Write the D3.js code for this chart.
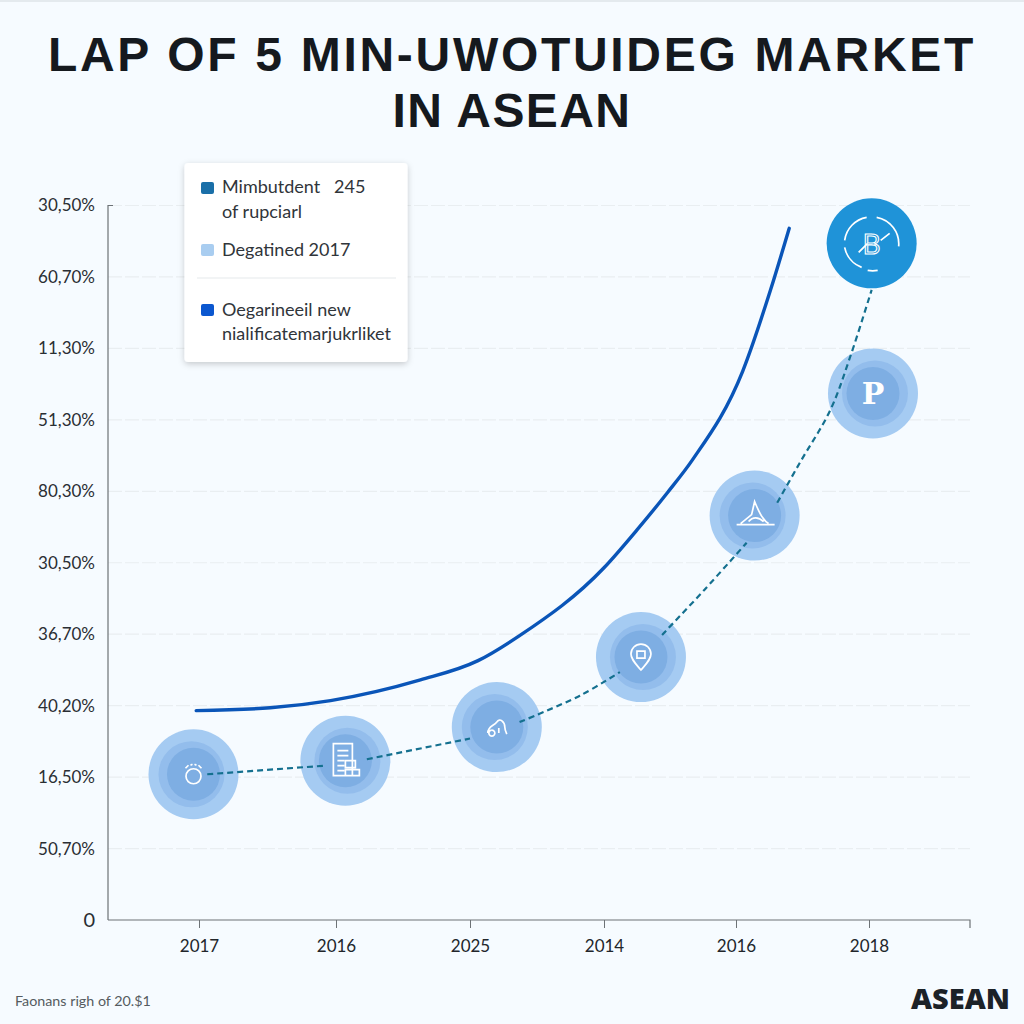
<!DOCTYPE html>
<html><head><meta charset="utf-8">
<script src="https://cdn.jsdelivr.net/npm/d3@7/dist/d3.min.js"></script>
<style>html,body{margin:0;padding:0;background:#f6fbff}svg{display:block}</style>
</head><body><svg id="c" width="1024" height="1024"></svg>
<script>
const titleLines = ["LAP OF 5 MIN-UWOTUIDEG MARKET", "IN ASEAN"];
const titleSpacing = [2.7, 1.4];
const yLabels = ["0","50,70%","16,50%","40,20%","36,70%","30,50%","80,30%","51,30%","11,30%","60,70%","30,50%"];
const xLabels = ["2017","2016","2025","2014","2016","2018"];
const solidX = [-0.02,0.52,0.96,1.63,2.06,2.37,3.0,3.25,3.48,3.67,4.05,4.26,4.40];
const solidY = [2.93,2.97,3.07,3.36,3.63,3.98,4.93,5.46,5.98,6.44,7.68,8.82,9.68];
const dashX = [[0.06,0.92],[1.23,2.0],[2.37,2.82,3.12],[3.44,3.76,4.08],[4.31,4.48,4.71,4.86,5.02]];
const dashY = [[2.04,2.16],[2.25,2.54],[2.77,3.14,3.47],[3.99,4.62,5.28],[5.84,6.40,7.14,7.89,8.82]];
const nodeX = [-0.04,1.07,2.2,3.28,4.14,5.03,5.02];
const nodeY = [2.04,2.23,2.70,3.68,5.66,7.37,9.47];
const legendLabels = [["Mimbutdent   245","of rupciarl"],["Degatined 2017"],["Oegarineeil new","nialificatemarjukrliket"]];
const legendColors = ["#1a6fa8","#a9cdf0","#0b57cf"];

const svg = d3.select("#c");
const font = "Lato, 'Open Sans', sans-serif";
const x = d3.scaleLinear().domain([-0.66,0,1,2,3,4,5,5.76]).range([108,199,336,470,604,736,869,970]);
const y = d3.scaleLinear().domain([0,10]).range([920,205.5]);

svg.append("rect").attr("width",1024).attr("height",1024).attr("fill","#f6fbff");
svg.append("rect").attr("width",1024).attr("height",2).attr("fill","#e4eaee");

svg.selectAll("text.title").data(titleLines).join("text").attr("class","title")
  .attr("x",512).attr("y",(d,i)=>i?127:71).attr("text-anchor","middle")
  .attr("font-family","'Liberation Sans', sans-serif").attr("font-weight",700).attr("font-size",48)
  .attr("letter-spacing",(d,i)=>titleSpacing[i])
  .attr("fill","#15191e").text(d=>d);

// grid
svg.append("g").selectAll("line").data(d3.range(1,11)).join("line")
  .attr("x1",108).attr("x2",970).attr("y1",d=>y(d)).attr("y2",d=>y(d))
  .attr("stroke","#e9eef1").attr("stroke-width",1.2).attr("stroke-dasharray","14 3");

// axes
const yAxis = d3.axisLeft(y).tickValues(d3.range(11)).tickFormat(i=>yLabels[i]).tickSize(0).tickPadding(13);
const gy = svg.append("g").attr("transform","translate(108,0)").call(yAxis);
gy.select(".domain").attr("stroke","#6d7276").attr("stroke-width",1.2).attr("d",`M5,${y(10)}H0V${y(0)}`);
gy.selectAll("text").attr("font-family",font).attr("font-size",17).attr("fill","#2a2e33");
gy.selectAll("text").filter(i=>i===0).attr("font-size",20);
const xAxis = d3.axisBottom(x).tickValues(d3.range(6)).tickFormat(i=>xLabels[i]).tickSize(8).tickPadding(12);
const gx = svg.append("g").attr("transform","translate(0,920)").call(xAxis);
gx.select(".domain").attr("stroke","#6d7276").attr("stroke-width",1.2).attr("d","M108,0H970V8");
gx.selectAll("line").attr("stroke","#6d7276");
gx.selectAll("text").attr("font-family",font).attr("font-size",17).attr("fill","#22262b");

// solid line
const lineFn = d3.line().x(d=>x(d[0])).y(d=>y(d[1])).curve(d3.curveMonotoneX);
svg.append("path").attr("d",lineFn(d3.zip(solidX,solidY))).attr("fill","none")
  .attr("stroke","#0a55b8").attr("stroke-width",3.4).attr("stroke-linecap","round");

// nodes
const nodes = d3.zip(nodeX,nodeY);
const icons = [
  g=>{g.append("circle").attr("cy",2).attr("r",7.5);g.append("path").attr("d","M-8,-6L-5,-9M8,-6L5,-9M-3,-9L-1,-10M3,-9L1,-10");},
  g=>{g.append("path").attr("d","M-12,-17H7V15H-12ZM-8,-10H3M-8,-5H3M-8,0H-1M-8,5H-1M-8,10H-1M0,0H10V7H0ZM0,9H14V15H0Z");},
  g=>{g.append("path").attr("d","M-9,6C-9,-1 -3,-1 0,-5C3,-10 8,-5 8,0C8,3 9,5 10,7M-5,3A3,3 0 1 0 -4.9,3M2,1V6");},
  g=>{g.append("path").attr("d","M0,13C-6,6 -10,2 -10,-3A10,10 0 0 1 10,-3C10,2 6,6 0,13ZM-4,-6H4V1H-4Z");},
  g=>{g.append("path").attr("d","M-18,9H20M-14,8L-3,-1L0,-14C3,-7 5,-2 8,2C10,5 12,7 14,8M-6,6C-2,1 4,1 9,6");},
  g=>{g.append("text").attr("text-anchor","middle").attr("y",11).attr("font-family","'DejaVu Serif',serif").attr("font-weight",700).attr("font-size",30).attr("fill","#fff").attr("stroke","none").text("P");},
  g=>{g.append("path").attr("d","M-27,-3A27,27 0 0 1 -5,-26M5,-26A27,27 0 0 1 27,3M-27,4A27,27 0 0 0 -10,24M-4,27A27,27 0 0 0 6,27M-13,9L-4,0M9,-3L18,-10");
      g.append("text").attr("text-anchor","middle").attr("y",11).attr("font-family","'Open Sans',sans-serif").attr("font-size",28).attr("fill","none").attr("stroke","#fff").attr("stroke-width",1.1).text("B");}
];
const gn = svg.append("g").selectAll("g").data(nodes).join("g").attr("transform",d=>`translate(${x(d[0])},${y(d[1])})`);
gn.each(function(d,i){
  const g = d3.select(this);
  if(i===6){ g.append("circle").attr("r",45).attr("fill","#1f93d8"); }
  else {
    g.append("circle").attr("r",45).attr("fill","#a5cbf2");
    g.append("circle").attr("r",33).attr("cx",i%2?2:-2).attr("fill","#93bdec");
    g.append("circle").attr("r",26.5).attr("fill","#7eaee3");
  }
});

// dashed line
const dashFn = d3.line().x(d=>x(d[0])).y(d=>y(d[1])).curve(d3.curveCatmullRom);
svg.append("g").selectAll("path").data(dashX.map((xs,i)=>d3.zip(xs,dashY[i]))).join("path")
  .attr("d",dashFn).attr("fill","none").attr("stroke","#14708f").attr("stroke-width",2.2).attr("stroke-dasharray","6 4");

// icons above the dashed line
svg.append("g").selectAll("g").data(nodes).join("g").attr("transform",d=>`translate(${x(d[0])},${y(d[1])})`)
  .attr("fill","none").attr("stroke","#fff").attr("stroke-width",1.7)
  .each(function(d,i){ icons[i](d3.select(this)); });

// legend
const defs = svg.append("defs");
const f = defs.append("filter").attr("id","sh").attr("x","-10%").attr("y","-10%").attr("width","120%").attr("height","125%");
f.append("feDropShadow").attr("dx",0).attr("dy",2).attr("stdDeviation",3).attr("flood-color","#000").attr("flood-opacity",0.2);
const lg = svg.append("g");
lg.append("rect").attr("x",184.5).attr("y",163).attr("width",223).attr("height",199).attr("rx",4).attr("fill","#fff").attr("filter","url(#sh)");
lg.append("line").attr("x1",197).attr("x2",396).attr("y1",278).attr("y2",278).attr("stroke","#e6e9ec").attr("stroke-width",1.2);
const legY = [182,244,304];
const legBase = [[193,218],[256],[316,340]];
legendLabels.forEach((ls,i)=>{
  lg.append("rect").attr("x",201).attr("y",legY[i]).attr("width",13).attr("height",12).attr("rx",2).attr("fill",legendColors[i]);
  ls.forEach((t,j)=>lg.append("text").attr("x",222).attr("y",legBase[i][j]).attr("font-family",font).attr("font-size",18).attr("fill","#30353a").style("white-space","pre").text(t));
});

// footer
svg.append("text").attr("x",15).attr("y",1006).attr("font-family",font).attr("font-size",14.3).attr("fill","#555b60").text("Faonans righ of 20.$1");
svg.append("text").attr("x",1010).attr("y",1009).attr("text-anchor","end").attr("font-family","'Open Sans',sans-serif").attr("font-weight",800).attr("font-size",29).attr("fill","#1c2228").text("ASEAN");
</script></body></html>
